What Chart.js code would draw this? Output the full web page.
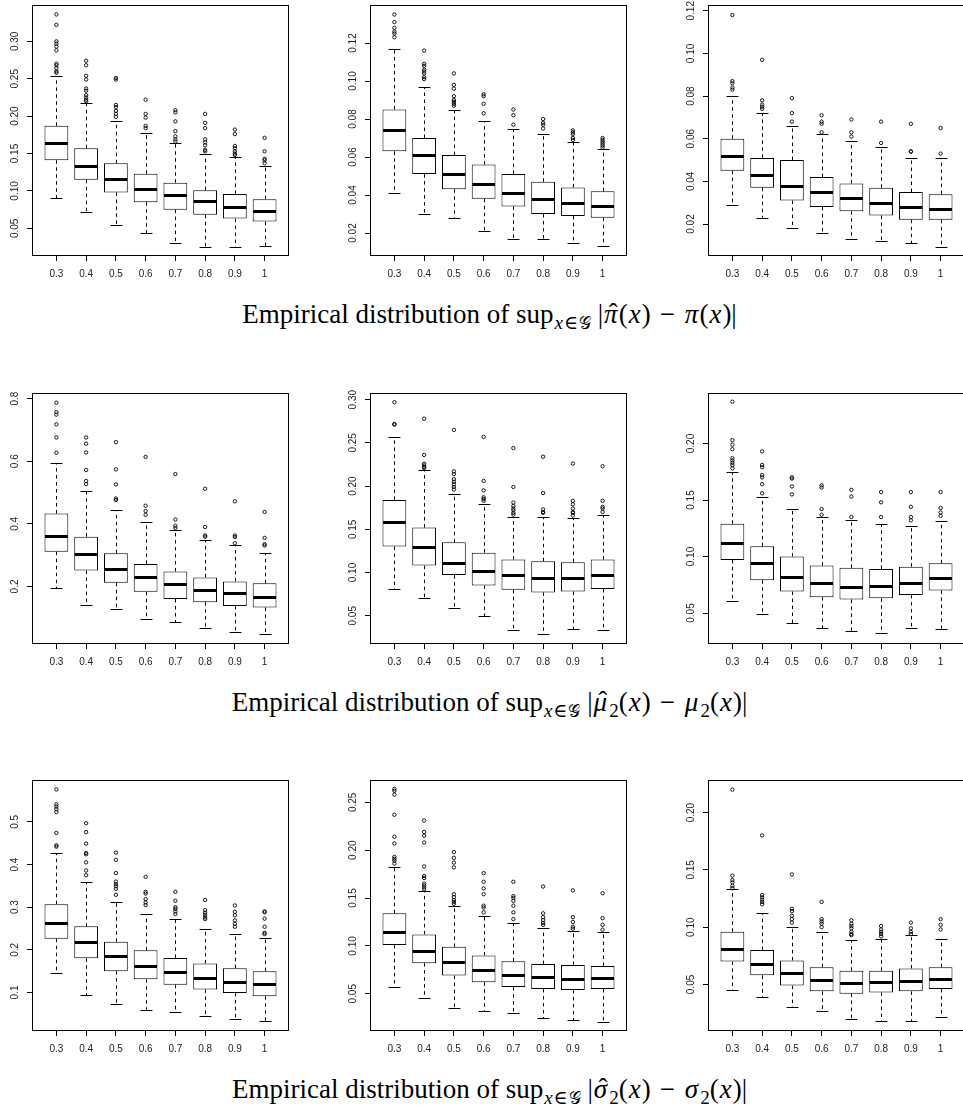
<!DOCTYPE html>
<html>
<head>
<meta charset="utf-8">
<script src="https://cdn.jsdelivr.net/npm/chart.js@4.4.1/dist/chart.umd.min.js"></script>
<style>
  html, body { margin: 0; padding: 0; background: #fff; }
  #page { position: relative; width: 963px; height: 1113px; overflow: hidden; background: #fff; }
  .panel { position: absolute; }
  .caption { position: absolute; left: 8px; width: 963px; text-align: center; white-space: nowrap;
             font-family: "Liberation Serif", "DejaVu Serif", serif; font-size: 27px; line-height: 30px; color: #000; }
  .caption .m { font-size: 27px; }
  .caption i { font-style: italic; margin: 0 1px; }
  .caption .sb { font-size: 19px; position: relative; top: 6px; margin-left: 1px; }
  .caption .sb i { margin: 0; }
  .caption .g { font-family: "DejaVu Sans", "DejaVu Serif", serif; font-size: 17px; }
  .caption .op { margin: 0 9px; }
  .caption .rel { margin: 0 1px; }
  .caption .hat { position: relative; display: inline-block; }
  .caption .hc { position: absolute; left: 0.14em; right: -0.04em; top: -0.04em; text-align: center; font-style: normal; }
</style>
</head>
<body>
<div id="page"></div>
<script>
// groups along the x axis
const xLabels = ['0.3', '0.4', '0.5', '0.6', '0.7', '0.8', '0.9', '1'];

// ---- sup |pi_hat - pi| ----
const piA_yTicks = ['0.05', '0.10', '0.15', '0.20', '0.25', '0.30'];
const piA_low  = [0.091, 0.072, 0.055, 0.044, 0.031, 0.025, 0.025, 0.027];
const piA_q1   = [0.141, 0.115, 0.098, 0.085, 0.075, 0.068, 0.063, 0.059];
const piA_med  = [0.164, 0.133, 0.116, 0.103, 0.094, 0.086, 0.079, 0.073];
const piA_q3   = [0.187, 0.157, 0.137, 0.123, 0.111, 0.101, 0.096, 0.089];
const piA_high = [0.254, 0.217, 0.194, 0.178, 0.164, 0.149, 0.145, 0.133];
const piA_out  = [
  [0.336, 0.322, 0.300, 0.297, 0.293, 0.288, 0.270, 0.268, 0.264, 0.260, 0.258],
  [0.274, 0.268, 0.254, 0.249, 0.237, 0.234, 0.228, 0.225, 0.222, 0.220],
  [0.251, 0.249, 0.215, 0.212, 0.207, 0.203, 0.199],
  [0.222, 0.203, 0.198, 0.187, 0.184],
  [0.208, 0.205, 0.193, 0.180, 0.173, 0.169, 0.166],
  [0.203, 0.191, 0.184, 0.169, 0.165, 0.161, 0.155, 0.153],
  [0.182, 0.176, 0.160, 0.157, 0.153, 0.150, 0.148],
  [0.171, 0.153, 0.143, 0.141, 0.137]
];

const piB_yTicks = ['0.02', '0.04', '0.06', '0.08', '0.10', '0.12'];
const piB_low  = [0.041, 0.030, 0.028, 0.021, 0.017, 0.017, 0.015, 0.013];
const piB_q1   = [0.063, 0.051, 0.043, 0.038, 0.034, 0.030, 0.029, 0.028];
const piB_med  = [0.074, 0.061, 0.051, 0.046, 0.041, 0.038, 0.036, 0.034];
const piB_q3   = [0.085, 0.070, 0.061, 0.056, 0.051, 0.047, 0.044, 0.042];
const piB_high = [0.117, 0.097, 0.085, 0.079, 0.075, 0.072, 0.068, 0.064];
const piB_out  = [
  [0.135, 0.131, 0.128, 0.126, 0.125, 0.123],
  [0.116, 0.109, 0.108, 0.106, 0.105, 0.104, 0.102, 0.101],
  [0.104, 0.098, 0.096, 0.092, 0.090, 0.089, 0.088, 0.087],
  [0.093, 0.092, 0.088, 0.083],
  [0.085, 0.082, 0.077],
  [0.080, 0.078, 0.077, 0.075],
  [0.074, 0.073, 0.072, 0.070, 0.069],
  [0.070, 0.069, 0.068, 0.067, 0.066, 0.065]
];

const piC_yTicks = ['0.02', '0.04', '0.06', '0.08', '0.10', '0.12'];
const piC_low  = [0.029, 0.023, 0.018, 0.016, 0.013, 0.012, 0.011, 0.009];
const piC_q1   = [0.045, 0.037, 0.031, 0.028, 0.026, 0.024, 0.022, 0.022];
const piC_med  = [0.052, 0.043, 0.038, 0.035, 0.032, 0.030, 0.028, 0.027];
const piC_q3   = [0.060, 0.051, 0.050, 0.042, 0.039, 0.037, 0.035, 0.034];
const piC_high = [0.080, 0.072, 0.066, 0.062, 0.059, 0.056, 0.051, 0.051];
const piC_out  = [
  [0.118, 0.087, 0.086, 0.084, 0.083],
  [0.097, 0.078, 0.076, 0.075, 0.074],
  [0.079, 0.072, 0.068],
  [0.071, 0.068, 0.067, 0.063],
  [0.069, 0.063, 0.061],
  [0.068, 0.058],
  [0.067, 0.054, 0.054],
  [0.065, 0.053]
];

// ---- sup |mu2_hat - mu2| ----
const muA_yTicks = ['0.2', '0.4', '0.6', '0.8'];
const muA_low  = [0.194, 0.142, 0.128, 0.096, 0.086, 0.066, 0.056, 0.048];
const muA_q1   = [0.311, 0.251, 0.212, 0.183, 0.160, 0.150, 0.138, 0.133];
const muA_med  = [0.360, 0.303, 0.257, 0.229, 0.208, 0.189, 0.178, 0.167];
const muA_q3   = [0.433, 0.359, 0.306, 0.272, 0.248, 0.229, 0.216, 0.210];
const muA_high = [0.593, 0.506, 0.445, 0.407, 0.380, 0.347, 0.331, 0.308];
const muA_out  = [
  [0.787, 0.757, 0.749, 0.718, 0.676, 0.627],
  [0.676, 0.656, 0.628, 0.572, 0.537, 0.527],
  [0.661, 0.574, 0.526, 0.481, 0.476],
  [0.614, 0.458, 0.441, 0.429],
  [0.559, 0.414, 0.394, 0.387],
  [0.512, 0.390, 0.363, 0.359],
  [0.472, 0.363, 0.358, 0.338],
  [0.438, 0.355, 0.335, 0.331]
];

const muB_yTicks = ['0.05', '0.10', '0.15', '0.20', '0.25', '0.30'];
const muB_low  = [0.081, 0.070, 0.059, 0.050, 0.034, 0.029, 0.035, 0.034];
const muB_q1   = [0.130, 0.108, 0.097, 0.085, 0.080, 0.077, 0.078, 0.081];
const muB_med  = [0.158, 0.129, 0.111, 0.102, 0.097, 0.094, 0.094, 0.097];
const muB_q3   = [0.184, 0.152, 0.135, 0.123, 0.115, 0.113, 0.112, 0.115];
const muB_high = [0.257, 0.219, 0.191, 0.179, 0.164, 0.164, 0.163, 0.166];
const muB_out  = [
  [0.297, 0.272, 0.271],
  [0.278, 0.236, 0.226, 0.224, 0.222, 0.221],
  [0.265, 0.217, 0.214, 0.208, 0.205, 0.202, 0.199, 0.196],
  [0.257, 0.206, 0.195, 0.187, 0.185, 0.183],
  [0.244, 0.199, 0.181, 0.177, 0.174, 0.172, 0.169, 0.167],
  [0.234, 0.192, 0.173, 0.170, 0.169],
  [0.226, 0.183, 0.179, 0.174, 0.170, 0.169, 0.166],
  [0.223, 0.183, 0.176, 0.174, 0.170]
];

const muC_yTicks = ['0.05', '0.10', '0.15', '0.20'];
const muC_low  = [0.061, 0.049, 0.041, 0.037, 0.034, 0.032, 0.037, 0.036];
const muC_q1   = [0.097, 0.079, 0.069, 0.064, 0.062, 0.063, 0.066, 0.070];
const muC_med  = [0.112, 0.094, 0.082, 0.077, 0.073, 0.074, 0.077, 0.081];
const muC_q3   = [0.129, 0.109, 0.100, 0.092, 0.090, 0.089, 0.091, 0.094];
const muC_high = [0.175, 0.153, 0.142, 0.135, 0.132, 0.129, 0.127, 0.131];
const muC_out  = [
  [0.237, 0.203, 0.199, 0.195, 0.187, 0.185, 0.183, 0.181, 0.178],
  [0.193, 0.181, 0.179, 0.172, 0.170, 0.164, 0.156],
  [0.170, 0.169, 0.162, 0.155],
  [0.163, 0.161, 0.142, 0.137],
  [0.159, 0.153, 0.135],
  [0.157, 0.148, 0.135],
  [0.157, 0.144, 0.135, 0.132],
  [0.157, 0.143, 0.139, 0.136]
];

// ---- sup |sigma2_hat - sigma2| ----
const sgA_yTicks = ['0.1', '0.2', '0.3', '0.4', '0.5'];
const sgA_low  = [0.146, 0.095, 0.074, 0.060, 0.053, 0.044, 0.038, 0.032];
const sgA_q1   = [0.226, 0.180, 0.150, 0.131, 0.118, 0.107, 0.099, 0.091];
const sgA_med  = [0.262, 0.218, 0.185, 0.162, 0.147, 0.134, 0.124, 0.120];
const sgA_q3   = [0.307, 0.255, 0.219, 0.199, 0.181, 0.168, 0.157, 0.150];
const sgA_high = [0.428, 0.359, 0.311, 0.284, 0.272, 0.248, 0.238, 0.227];
const sgA_out  = [
  [0.576, 0.541, 0.536, 0.530, 0.523, 0.474, 0.445, 0.442],
  [0.497, 0.476, 0.449, 0.427, 0.424, 0.405, 0.386, 0.375],
  [0.428, 0.411, 0.380, 0.360, 0.354, 0.349, 0.343, 0.329],
  [0.371, 0.336, 0.332, 0.319, 0.311, 0.305],
  [0.336, 0.315, 0.300, 0.296, 0.290, 0.284],
  [0.317, 0.293, 0.287, 0.282, 0.276, 0.272],
  [0.304, 0.289, 0.281, 0.269, 0.261, 0.254],
  [0.290, 0.288, 0.273, 0.254, 0.240, 0.237]
];

const sgB_yTicks = ['0.05', '0.10', '0.15', '0.20', '0.25'];
const sgB_low  = [0.057, 0.046, 0.035, 0.032, 0.030, 0.025, 0.023, 0.021];
const sgB_q1   = [0.101, 0.082, 0.069, 0.062, 0.057, 0.055, 0.054, 0.055];
const sgB_med  = [0.115, 0.095, 0.083, 0.075, 0.070, 0.067, 0.065, 0.066];
const sgB_q3   = [0.134, 0.112, 0.099, 0.090, 0.084, 0.081, 0.080, 0.079];
const sgB_high = [0.182, 0.157, 0.142, 0.131, 0.124, 0.119, 0.116, 0.114];
const sgB_out  = [
  [0.264, 0.262, 0.258, 0.237, 0.214, 0.207, 0.193, 0.191, 0.189, 0.186],
  [0.231, 0.219, 0.215, 0.208, 0.183, 0.173, 0.171, 0.165, 0.163, 0.161, 0.159],
  [0.198, 0.192, 0.187, 0.182, 0.154, 0.151, 0.148, 0.146, 0.144],
  [0.176, 0.167, 0.160, 0.154, 0.142, 0.140, 0.135],
  [0.167, 0.152, 0.150, 0.147, 0.142, 0.135, 0.128],
  [0.162, 0.134, 0.130, 0.127, 0.124, 0.122],
  [0.158, 0.130, 0.125, 0.120, 0.118],
  [0.155, 0.129, 0.122, 0.117]
];

const sgC_yTicks = ['0.05', '0.10', '0.15', '0.20'];
const sgC_low  = [0.045, 0.039, 0.030, 0.027, 0.020, 0.018, 0.018, 0.022];
const sgC_q1   = [0.070, 0.058, 0.049, 0.044, 0.042, 0.043, 0.044, 0.046];
const sgC_med  = [0.081, 0.068, 0.060, 0.054, 0.051, 0.052, 0.053, 0.055];
const sgC_q3   = [0.096, 0.080, 0.071, 0.065, 0.062, 0.062, 0.064, 0.065];
const sgC_high = [0.133, 0.112, 0.100, 0.096, 0.089, 0.090, 0.093, 0.090];
const sgC_out  = [
  [0.220, 0.145, 0.141, 0.139, 0.136, 0.134],
  [0.180, 0.128, 0.126, 0.124, 0.122, 0.120],
  [0.146, 0.116, 0.114, 0.110, 0.107, 0.104],
  [0.122, 0.107, 0.105, 0.103, 0.100],
  [0.106, 0.103, 0.101, 0.099, 0.096, 0.094, 0.093],
  [0.101, 0.098, 0.096, 0.094, 0.092],
  [0.104, 0.099, 0.096, 0.094],
  [0.107, 0.102, 0.098]
];

// layout of the 3x3 grid (plot frame positions)
const colLeft = [32, 370, 708];
const rowTop = [5, 393, 780];
const frameW = 257, frameH = 251;
const padL = 40, padR = 6, padT = 5, padB = 40;

const panels = [
  { col: 0, row: 0, yMin: 0.013, yMax: 0.3486, yTicks: piA_yTicks, low: piA_low, q1: piA_q1, med: piA_med, q3: piA_q3, high: piA_high, out: piA_out },
  { col: 1, row: 0, yMin: 0.0079, yMax: 0.14, yTicks: piB_yTicks, low: piB_low, q1: piB_q1, med: piB_med, q3: piB_q3, high: piB_high, out: piB_out },
  { col: 2, row: 0, yMin: 0.005, yMax: 0.1227, yTicks: piC_yTicks, low: piC_low, q1: piC_q1, med: piC_med, q3: piC_q3, high: piC_high, out: piC_out },
  { col: 0, row: 1, yMin: 0.0163, yMax: 0.818, yTicks: muA_yTicks, low: muA_low, q1: muA_q1, med: muA_med, q3: muA_q3, high: muA_high, out: muA_out },
  { col: 1, row: 1, yMin: 0.0173, yMax: 0.3077, yTicks: muB_yTicks, low: muB_low, q1: muB_q1, med: muB_med, q3: muB_q3, high: muB_high, out: muB_out },
  { col: 2, row: 1, yMin: 0.0226, yMax: 0.2447, yTicks: muC_yTicks, low: muC_low, q1: muC_q1, med: muC_med, q3: muC_q3, high: muC_high, out: muC_out },
  { col: 0, row: 2, yMin: 0.0096, yMax: 0.5982, yTicks: sgA_yTicks, low: sgA_low, q1: sgA_q1, med: sgA_med, q3: sgA_q3, high: sgA_high, out: sgA_out },
  { col: 1, row: 2, yMin: 0.0111, yMax: 0.2733, yTicks: sgB_yTicks, low: sgB_low, q1: sgB_q1, med: sgB_med, q3: sgB_q3, high: sgB_high, out: sgB_out },
  { col: 2, row: 2, yMin: 0.0094, yMax: 0.2284, yTicks: sgC_yTicks, low: sgC_low, q1: sgC_q1, med: sgC_med, q3: sgC_q3, high: sgC_high, out: sgC_out }
];

function hat(letter) {
  return '<span class="hat"><i>' + letter + '</i><span class="hc">ˆ</span></span>';
}
const supPart = 'Empirical distribution of sup<span class="sb"><i>x</i><span class="rel">∈</span><span class="g">𝒢</span></span> ';
const captions = [
  supPart + '<span class="m">|' + hat('π') + '(<i>x</i>)<span class="op">−</span><i>π</i>(<i>x</i>)|</span>',
  supPart + '<span class="m">|' + hat('μ') + '<span class="sb">2</span>(<i>x</i>)<span class="op">−</span><i>μ</i><span class="sb">2</span>(<i>x</i>)|</span>',
  supPart + '<span class="m">|' + hat('σ') + '<span class="sb">2</span>(<i>x</i>)<span class="op">−</span><i>σ</i><span class="sb">2</span>(<i>x</i>)|</span>'
];

const tickFont = '"Liberation Sans", Arial, sans-serif';
const page = document.getElementById('page');

// whiskers, staples, medians, frame and rotated y labels (R boxplot look)
const boxParts = {
  id: 'boxParts',
  beforeDatasetsDraw(chart) {
    const p = chart.config.options.plugins.boxParts.panel;
    const ys = chart.scales.y, ctx = chart.ctx;
    const bars = chart.getDatasetMeta(0).data;
    ctx.save();
    ctx.strokeStyle = '#000';
    ctx.lineWidth = 1;
    bars.forEach(function (el, i) {
      const x = Math.round(el.x) + 0.5, w = el.width;
      const yq1 = ys.getPixelForValue(p.q1[i]), yq3 = ys.getPixelForValue(p.q3[i]);
      const ylo = Math.round(ys.getPixelForValue(p.low[i])) + 0.5;
      const yhi = Math.round(ys.getPixelForValue(p.high[i])) + 0.5;
      ctx.setLineDash([3.5, 3.5]);
      ctx.beginPath();
      ctx.moveTo(x, yq3); ctx.lineTo(x, yhi);
      ctx.moveTo(x, yq1); ctx.lineTo(x, ylo);
      ctx.stroke();
      ctx.setLineDash([]);
      ctx.beginPath();
      ctx.moveTo(x - w / 4, yhi); ctx.lineTo(x + w / 4, yhi);
      ctx.moveTo(x - w / 4, ylo); ctx.lineTo(x + w / 4, ylo);
      ctx.stroke();
    });
    ctx.restore();
  },
  afterDatasetsDraw(chart) {
    const p = chart.config.options.plugins.boxParts.panel;
    const ys = chart.scales.y, ctx = chart.ctx;
    const bars = chart.getDatasetMeta(0).data;
    ctx.save();
    ctx.strokeStyle = '#000';
    ctx.lineWidth = 3;
    bars.forEach(function (el, i) {
      const y = Math.round(ys.getPixelForValue(p.med[i]));
      ctx.beginPath();
      ctx.moveTo(el.x - el.width / 2 + 0.5, y + 0.5);
      ctx.lineTo(el.x + el.width / 2 - 0.5, y + 0.5);
      ctx.stroke();
    });
    ctx.restore();
  },
  afterDraw(chart) {
    const p = chart.config.options.plugins.boxParts.panel;
    const a = chart.chartArea, ys = chart.scales.y, ctx = chart.ctx;
    ctx.save();
    ctx.strokeStyle = '#000';
    ctx.lineWidth = 1;
    ctx.strokeRect(Math.round(a.left) + 0.5, Math.round(a.top) + 0.5,
                   Math.round(a.right - a.left) - 1, Math.round(a.bottom - a.top) - 1);
    ctx.fillStyle = '#222';
    ctx.font = '10px ' + tickFont;
    ctx.textAlign = 'center';
    ctx.textBaseline = 'middle';
    p.yTicks.forEach(function (t) {
      ctx.save();
      ctx.translate(a.left - 17, ys.getPixelForValue(Number(t)));
      ctx.rotate(-Math.PI / 2);
      ctx.fillText(t, 0, 0);
      ctx.restore();
    });
    ctx.restore();
  }
};

panels.forEach(function (p) {
  const wrap = document.createElement('div');
  wrap.className = 'panel';
  wrap.style.left = (colLeft[p.col] - padL) + 'px';
  wrap.style.top = (rowTop[p.row] - padT) + 'px';
  const cv = document.createElement('canvas');
  cv.width = padL + frameW + padR;
  cv.height = padT + frameH + padB;
  wrap.appendChild(cv);
  page.appendChild(wrap);

  const outPts = [];
  p.out.forEach(function (vals, i) {
    vals.forEach(function (v) { outPts.push({ x: i + 1, y: v }); });
  });

  new Chart(cv, {
    type: 'bar',
    data: {
      datasets: [
        {
          type: 'bar',
          data: p.q1.map(function (v, i) { return { x: i + 1, y: [v, p.q3[i]] }; }),
          backgroundColor: '#fff',
          borderColor: '#000',
          borderWidth: 1,
          borderSkipped: false,
          barPercentage: 0.8,
          categoryPercentage: 1,
          order: 2
        },
        {
          type: 'scatter',
          data: outPts,
          showLine: false,
          pointRadius: 1.7,
          pointBorderWidth: 0.9,
          pointBackgroundColor: 'rgba(0,0,0,0)',
          pointBorderColor: '#000',
          order: 1
        }
      ]
    },
    options: {
      responsive: false,
      animation: false,
      events: [],
      layout: { padding: { left: 0, top: padT, right: padR, bottom: 0 } },
      plugins: {
        legend: { display: false },
        tooltip: { enabled: false },
        boxParts: { panel: p }
      },
      scales: {
        x: {
          type: 'linear',
          min: 0.18,
          max: 8.82,
          offset: false,
          afterBuildTicks: function (s) { s.ticks = xLabels.map(function (_, i) { return { value: i + 1 }; }); },
          afterFit: function (s) { s.height = padB; },
          ticks: {
            callback: function (v) { return xLabels[v - 1]; },
            autoSkip: false,
            maxRotation: 0,
            padding: 7,
            color: '#222',
            font: { family: tickFont, size: 10 }
          },
          grid: { offset: false, drawOnChartArea: false, drawTicks: true, tickLength: 5, color: '#000' },
          border: { display: false }
        },
        y: {
          min: p.yMin,
          max: p.yMax,
          afterBuildTicks: function (s) { s.ticks = p.yTicks.map(function (t) { return { value: Number(t) }; }); },
          afterFit: function (s) { s.width = padL; },
          ticks: { display: false },
          grid: { drawOnChartArea: false, drawTicks: true, tickLength: 5, color: '#000' },
          border: { display: false }
        }
      }
    },
    plugins: [boxParts]
  });
});

captions.forEach(function (html, r) {
  const d = document.createElement('div');
  d.className = 'caption';
  d.style.top = (rowTop[r] + frameH + 58 - 15) + 'px';
  d.innerHTML = html;
  page.appendChild(d);
});
</script>
</body>
</html>
